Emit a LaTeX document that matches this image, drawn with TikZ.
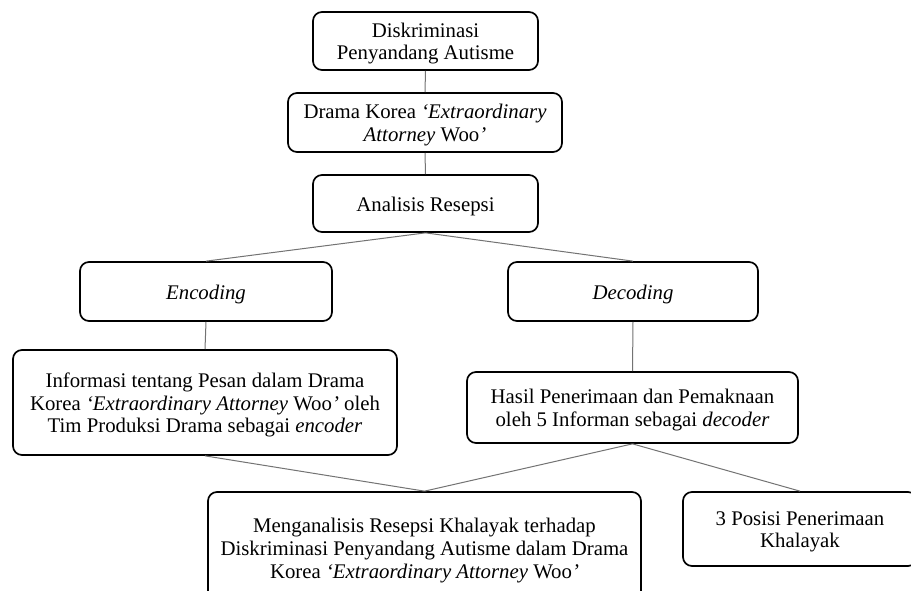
\documentclass[tikz,border=0pt]{standalone}
\usepackage{fontspec}
\setmainfont{Liberation Serif}
\newcommand{\bxt}[1]{\raisebox{-3pt}[\height][\depth]{\begin{tabular}{@{}c@{}}#1\end{tabular}}}
\begin{document}
\begin{tikzpicture}[x=1pt,y=-1pt,
  box/.style={draw=black, line width=1.7pt, rounded corners=9pt, fill=white,
    inner sep=0pt, font=\fontsize{20.8}{24}\selectfont},
  link/.style={draw=black!55, line width=1pt}]
\clip (0,0) rectangle (911,591);
\fill[white] (0,0) rectangle (911,591);
\renewcommand{\arraystretch}{0.95}
% nodes
\node[box, minimum width=225pt, minimum height=58pt] (b1) at (425.5,41) {\bxt{Diskriminasi\\Penyandang Autisme}};
\node[box, minimum width=274pt, minimum height=59pt] (b2) at (425,122.5) {\bxt{Drama Korea \textit{‘Extraordinary}\\\textit{Attorney} Woo\textit{’}}};
\node[box, minimum width=225pt, minimum height=57pt] (b3) at (425.5,203.5) {\bxt{Analisis Resepsi}};
\node[box, minimum width=252pt, minimum height=59pt] (enc) at (206,291.5) {\bxt{\textit{Encoding}}};
\node[box, minimum width=250pt, minimum height=59pt] (dec) at (633,291.5) {\bxt{\textit{Decoding}}};
\node[box, minimum width=384pt, minimum height=105pt] (info) at (205,402.5) {\bxt{Informasi tentang Pesan dalam Drama\\Korea \textit{‘Extraordinary Attorney} Woo\textit{’} oleh\\Tim Produksi Drama sebagai \textit{encoder}}};
\node[box, minimum width=331pt, minimum height=71pt] (hasil) at (632.5,407.5) {\bxt{Hasil Penerimaan dan Pemaknaan\\oleh 5 Informan sebagai \textit{decoder}}};
\node[box, minimum width=433pt, minimum height=112pt] (meng) at (424.5,548) {\bxt{Menganalisis Resepsi Khalayak terhadap\\Diskriminasi Penyandang Autisme dalam Drama\\Korea \textit{‘Extraordinary Attorney} Woo\textit{’}}};
\node[box, minimum width=234pt, minimum height=74pt] (pos) at (800,529) {\bxt{3 Posisi Penerimaan\\Khalayak}};
% connectors
\draw[link] (b1.south) -- (b2.north);
\draw[link] (b2.south) -- (b3.north);
\draw[link] (b3.south) -- (enc.north);
\draw[link] (b3.south) -- (dec.north);
\draw[link] (enc.south) -- (info.north);
\draw[link] (dec.south) -- (hasil.north);
\draw[link] (info.south) -- (meng.north);
\draw[link] (hasil.south) -- (meng.north);
\draw[link] (hasil.south) -- (pos.north);
\end{tikzpicture}
\end{document}
